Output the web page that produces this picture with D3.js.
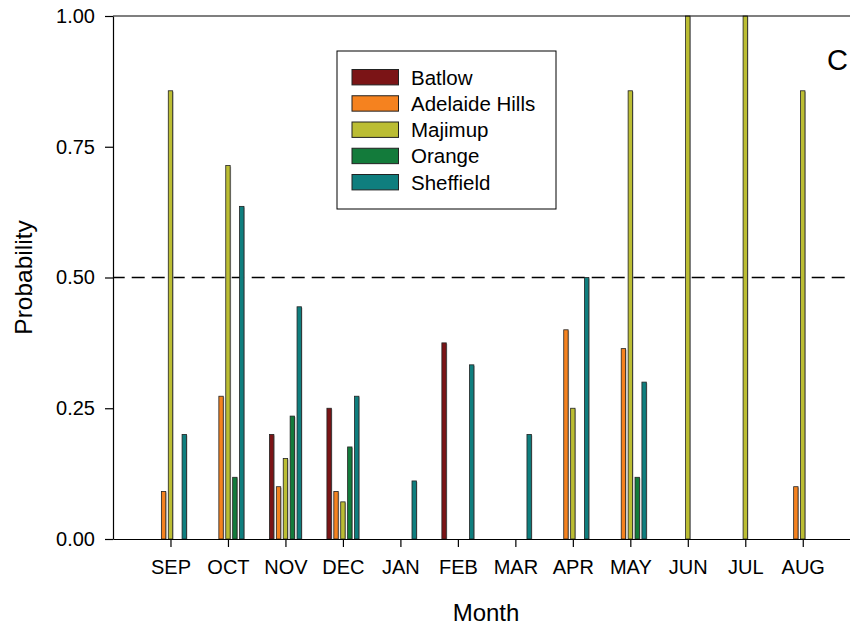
<!DOCTYPE html>
<html>
<head>
<meta charset="utf-8">
<script src="https://cdn.jsdelivr.net/npm/d3@7"></script>
<style>
  body { margin: 0; background: #fff; }
  svg { display: block; font-family: Arial, "Liberation Sans", sans-serif; }
</style>
</head>
<body>
<div id="chart"></div>
<script>
// ── Data ─────────────────────────────────────────────────────────────
const months = ["SEP", "OCT", "NOV", "DEC", "JAN", "FEB", "MAR", "APR", "MAY", "JUN", "JUL", "AUG"];
const sites  = ["Batlow", "Adelaide Hills", "Majimup", "Orange", "Sheffield"];

const batlow     = [0, 0, 0.20, 0.25, 0, 0.375, 0, 0, 0, 0, 0, 0];
const adelaide   = [0.091, 0.273, 0.10, 0.091, 0, 0, 0, 0.40, 0.364, 0, 0, 0.10];
const majimup    = [0.857, 0.714, 0.154, 0.071, 0, 0, 0, 0.25, 0.857, 1.0, 1.0, 0.857];
const orange     = [0, 0.118, 0.235, 0.176, 0, 0, 0, 0, 0.118, 0, 0, 0];
const sheffield  = [0.20, 0.636, 0.444, 0.273, 0.111, 0.333, 0.20, 0.50, 0.30, 0, 0, 0];

const yTicks     = [0, 0.25, 0.5, 0.75, 1.0];
const threshold  = 0.5;

const seriesValues = [batlow, adelaide, majimup, orange, sheffield];
const colors = ["#7b1416", "#f5821f", "#bbbd33", "#137b3b", "#0f7e7e"];

// ── Layout ───────────────────────────────────────────────────────────
const W = 850, H = 627;
const plot = { left: 113, top: 16, bottom: 539, step: 57.48 };

const svg = d3.select("#chart").append("svg")
  .attr("width", W)
  .attr("height", H);

// month index -1 sits on the left axis; plot runs past the window on the right
const x = d3.scaleLinear()
  .domain([-1, 12])
  .range([plot.left, plot.left + 13 * plot.step]);

const y = d3.scaleLinear()
  .domain([0, 1])
  .range([plot.bottom, plot.top]);

// sub-position of each site within a month group
const sub = d3.scaleBand()
  .domain(sites)
  .range([-17.25, 17.25]);
const barW = 4.4;

// ── Threshold line ───────────────────────────────────────────────────
svg.append("line")
  .attr("x1", plot.left).attr("y1", y(threshold))
  .attr("x2", W).attr("y2", y(threshold))
  .attr("stroke", "#000")
  .attr("stroke-width", 1.3)
  .attr("stroke-dasharray", "13,7")
  .attr("stroke-dashoffset", 1.3);

// ── Bars ─────────────────────────────────────────────────────────────
const bars = [];
sites.forEach((s, k) => {
  seriesValues[k].forEach((v, i) => {
    if (v > 0) bars.push({ site: s, k, i, v });
  });
});

svg.append("g").selectAll("rect.shadow")
  .data(bars)
  .join("rect")
    .attr("x", d => x(d.i) + sub(d.site) + sub.bandwidth() / 2 - barW / 2 + 1)
    .attr("y", d => y(d.v) + 1)
    .attr("width", barW)
    .attr("height", d => y(0) - y(d.v) - 1)
    .attr("fill", "#bbb");

svg.append("g").selectAll("rect.bar")
  .data(bars)
  .join("rect")
    .attr("x", d => x(d.i) + sub(d.site) + sub.bandwidth() / 2 - barW / 2)
    .attr("y", d => y(d.v))
    .attr("width", barW)
    .attr("height", d => y(0) - y(d.v))
    .attr("fill", d => colors[d.k])
    .attr("stroke", "#222")
    .attr("stroke-width", 0.8);

// ── Axes ─────────────────────────────────────────────────────────────
const yAxis = svg.append("g")
  .attr("transform", `translate(${plot.left},0)`)
  .call(d3.axisLeft(y)
    .tickValues(yTicks)
    .tickSize(8)
    .tickSizeOuter(0)
    .tickPadding(10)
    .tickFormat(d3.format(".2f")));

const xAxis = svg.append("g")
  .attr("transform", `translate(0,${plot.bottom})`)
  .call(d3.axisBottom(x)
    .tickValues(d3.range(months.length))
    .tickSize(8)
    .tickSizeOuter(0)
    .tickPadding(13)
    .tickFormat(i => months[i]));

[yAxis, xAxis].forEach(g => {
  g.selectAll("path, line").attr("stroke", "#000").attr("stroke-width", 1.2);
  g.selectAll("text")
    .attr("fill", "#000")
    .attr("font-size", "20px")
    .style("font-family", "Arial, 'Liberation Sans', sans-serif");
});

// top frame line at 1.00
svg.append("line")
  .attr("x1", plot.left).attr("y1", y(1))
  .attr("x2", W).attr("y2", y(1))
  .attr("stroke", "#000")
  .attr("stroke-width", 1.2);

// ── Axis titles ──────────────────────────────────────────────────────
svg.append("text")
  .attr("x", 486)
  .attr("y", 621)
  .attr("text-anchor", "middle")
  .attr("font-size", "24px")
  .text("Month");

svg.append("text")
  .attr("transform", `translate(32,${(plot.top + plot.bottom) / 2}) rotate(-90)`)
  .attr("text-anchor", "middle")
  .attr("font-size", "24.5px")
  .text("Probability");

svg.append("text")
  .attr("x", 848)
  .attr("y", 70)
  .attr("text-anchor", "end")
  .attr("font-size", "29px")
  .text("C");

// ── Legend ───────────────────────────────────────────────────────────
const legend = svg.append("g").attr("transform", "translate(337,51)");

legend.append("rect")
  .attr("width", 219)
  .attr("height", 158)
  .attr("fill", "#fff")
  .attr("stroke", "#000")
  .attr("stroke-width", 1);

const rows = legend.selectAll("g.row")
  .data(sites)
  .join("g")
    .attr("transform", (d, k) => `translate(15,${18.5 + k * 26.25})`);

rows.append("rect")
  .attr("width", 46.5)
  .attr("height", 15.4)
  .attr("fill", (d, k) => colors[k])
  .attr("stroke", "#222")
  .attr("stroke-width", 1);

rows.append("text")
  .attr("x", 59)
  .attr("y", 15)
  .attr("font-size", "20.5px")
  .text(d => d);
</script>
</body>
</html>
